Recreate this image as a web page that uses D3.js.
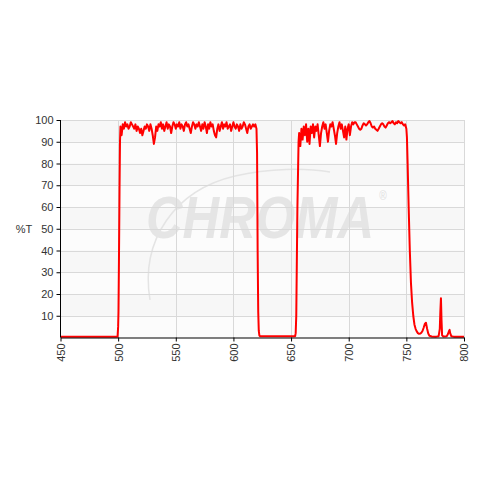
<!DOCTYPE html>
<html>
<head>
<meta charset="utf-8">
<script src="https://cdn.jsdelivr.net/npm/d3@7"></script>
<style>
  body { margin: 0; background: #fff; }
  svg { display: block; font-family: Arial, "Liberation Sans", sans-serif; }
</style>
</head>
<body>
<svg id="chart" width="480" height="480"></svg>
<script>
// tick labels
const xTicks = [450, 500, 550, 600, 650, 700, 750, 800];
const yTicks = [10, 20, 30, 40, 50, 60, 70, 80, 90, 100];

// edges / baseline points (nm, %T)
const edgeNm = [450, 499.5, 500, 500.3, 500.7, 501.2, 501.6,
  620, 620.5, 621, 621.5, 622, 622.5, 623, 653.5, 654, 654.5, 655, 655.5, 656, 656.5,
  750.5, 751, 752, 753, 754, 755, 756, 757, 758, 759, 760, 761, 762, 763, 764, 765, 766, 767, 768, 769, 770,
  772, 776, 778, 779, 779.5, 780, 780.5, 781, 782, 785, 786, 787, 787.5, 788, 789, 791, 800];
const edgeT = [0.4, 0.4, 5, 12, 35, 68, 90,
  96, 85, 40, 12, 3, 1, 0.6, 0.6, 2, 10, 35, 60, 75, 90,
  92, 82, 60, 40, 25, 16, 10, 6, 4, 2.8, 2, 1.7, 1.8, 2.2, 3, 4.5, 6.2, 6.8, 4, 1.8, 0.8,
  0.5, 0.4, 0.6, 4, 12, 18, 8, 1, 0.5, 0.6, 1.5, 3, 3.5, 2, 0.6, 0.4, 0.4];

// first passband, one value per nm from 502
const band1Start = 502;
const band1T = [
  97, 93, 98, 96, 99, 97, 98, 96, 97, 99,
  98, 97, 96, 98, 95, 97, 96, 94, 96, 93,
  95, 97, 96, 98, 97, 95, 98, 96, 93, 89,
  92, 97, 95, 98, 97, 99, 96, 98, 95, 97,
  99, 96, 98, 97, 94, 97, 99, 98, 96, 98,
  97, 99, 96, 98, 97, 95, 98, 99, 97, 98,
  96, 94, 97, 99, 98, 96, 98, 97, 99, 97,
  95, 98, 96, 99, 97, 94, 98, 96, 99, 97,
  98, 95, 93, 92, 96, 98, 95, 97, 99, 96,
  98, 97, 99, 96, 97, 98, 95, 97, 99, 97,
  96, 98, 97, 95, 98, 96, 97, 99, 98, 96,
  94, 97, 98, 96, 97, 98, 97, 98];

// second passband, one value per nm from 657
const band2Start = 657;
const band2T = [
  94, 88, 96, 91, 97, 93, 98, 90, 96, 89,
  97, 94, 98, 92, 97, 95, 98, 93, 88, 94,
  97, 99, 96, 98, 94, 90, 95, 98, 97, 99,
  96, 93, 89, 94, 97, 99, 96, 98, 95, 92,
  97, 91, 96, 98, 93, 97, 99, 98, 99, 99,
  98, 97, 96, 95.5, 96, 97.5, 98.5, 98, 97.5, 98,
  99, 99.5, 98.5, 97, 96.5, 97, 96, 95.5, 95, 96,
  97, 98, 98.5, 98, 97, 96.5, 97.5, 98.5, 99, 98.5,
  99, 99.5, 98.5, 98, 99, 98.5, 99.5, 99, 98.5, 99,
  98, 97.5, 98, 96];

const data = [];
edgeNm.forEach((nm, i) => data.push({ nm, t: edgeT[i] }));
band1T.forEach((t, i) => data.push({ nm: band1Start + i, t }));
band2T.forEach((t, i) => data.push({ nm: band2Start + i, t }));
data.sort((a, b) => a.nm - b.nm);

const svg = d3.select('#chart');
const plotLeft = 60.5, plotRight = 464, plotTop = 120, plotBottom = 337.5;

const x = d3.scaleLinear().domain([450, 800]).range([plotLeft, plotRight]);
const y = d3.scaleLinear().domain([0, 100]).range([plotBottom, plotTop]);

// plot background, subtle alternating bands
svg.append('rect')
  .attr('x', plotLeft).attr('y', plotTop)
  .attr('width', plotRight - plotLeft).attr('height', plotBottom - plotTop)
  .attr('fill', '#f7f7f7');

svg.append('g').selectAll('rect')
  .data(d3.range(0, 100, 20))
  .enter().append('rect')
  .attr('x', plotLeft)
  .attr('y', d => y(d + 10))
  .attr('width', plotRight - plotLeft)
  .attr('height', d => y(d) - y(d + 10))
  .attr('fill', '#fcfcfc');

// watermark
const wm = svg.append('g');
wm.append('path')
  .attr('d', 'M150,300 C140,240 175,190 235,176 C270,168 305,168 330,172')
  .attr('fill', 'none')
  .attr('stroke', '#e4e4e4')
  .attr('stroke-width', 1.5);
const logo = wm.append('text')
  .attr('transform', 'translate(146,238) scale(0.845,1)')
  .attr('font-size', 60)
  .attr('font-weight', 'bold')
  .attr('font-style', 'italic')
  .attr('fill', '#e5e5e5')
  .text('CHROMA');
logo.append('tspan')
  .attr('dx', 6).attr('dy', -38)
  .attr('font-size', 12)
  .attr('font-weight', 'normal')
  .attr('font-style', 'normal')
  .attr('fill', '#e0e0e0')
  .text('®');

// grid
svg.append('g').selectAll('line')
  .data(yTicks)
  .enter().append('line')
  .attr('x1', plotLeft).attr('x2', plotRight)
  .attr('y1', d => Math.round(y(d)) + 0.5).attr('y2', d => Math.round(y(d)) + 0.5)
  .attr('stroke', '#d9d9d9');

svg.append('g').selectAll('line')
  .data(xTicks.slice(1))
  .enter().append('line')
  .attr('x1', d => Math.round(x(d)) + 0.5).attr('x2', d => Math.round(x(d)) + 0.5)
  .attr('y1', plotTop).attr('y2', plotBottom)
  .attr('stroke', '#d9d9d9');

// transmission curve
const line = d3.line().x(d => x(d.nm)).y(d => y(d.t));
svg.append('path')
  .datum(data)
  .attr('d', line)
  .attr('fill', 'none')
  .attr('stroke', '#ff0000')
  .attr('stroke-width', 2)
  .attr('stroke-linejoin', 'round');

// axes
const yAxis = svg.append('g')
  .attr('transform', `translate(${plotLeft},0)`)
  .call(d3.axisLeft(y).tickValues(yTicks).tickSize(4).tickSizeOuter(0));
yAxis.select('.domain').attr('d', `M0,${plotTop}V${plotBottom}`).attr('stroke', '#000');
yAxis.selectAll('.tick line').attr('stroke', '#000');
yAxis.selectAll('.tick text')
  .attr('font-size', 11).attr('fill', '#333').attr('font-family', 'Arial, "Liberation Sans", sans-serif');

const xAxis = svg.append('g')
  .attr('transform', `translate(0,${plotBottom})`)
  .call(d3.axisBottom(x).tickValues(xTicks).tickSize(4).tickSizeOuter(0));
xAxis.select('.domain').attr('stroke', '#000');
xAxis.selectAll('.tick line').attr('stroke', '#000');
xAxis.selectAll('.tick text')
  .attr('font-size', 11).attr('fill', '#333').attr('font-family', 'Arial, "Liberation Sans", sans-serif')
  .attr('transform', 'rotate(-90)')
  .attr('text-anchor', 'end')
  .attr('x', -6).attr('y', 0).attr('dy', '0.35em');

svg.append('text')
  .attr('x', 24).attr('y', 233)
  .attr('text-anchor', 'middle')
  .attr('font-size', 11)
  .attr('fill', '#333')
  .text('%T');
</script>
</body>
</html>
